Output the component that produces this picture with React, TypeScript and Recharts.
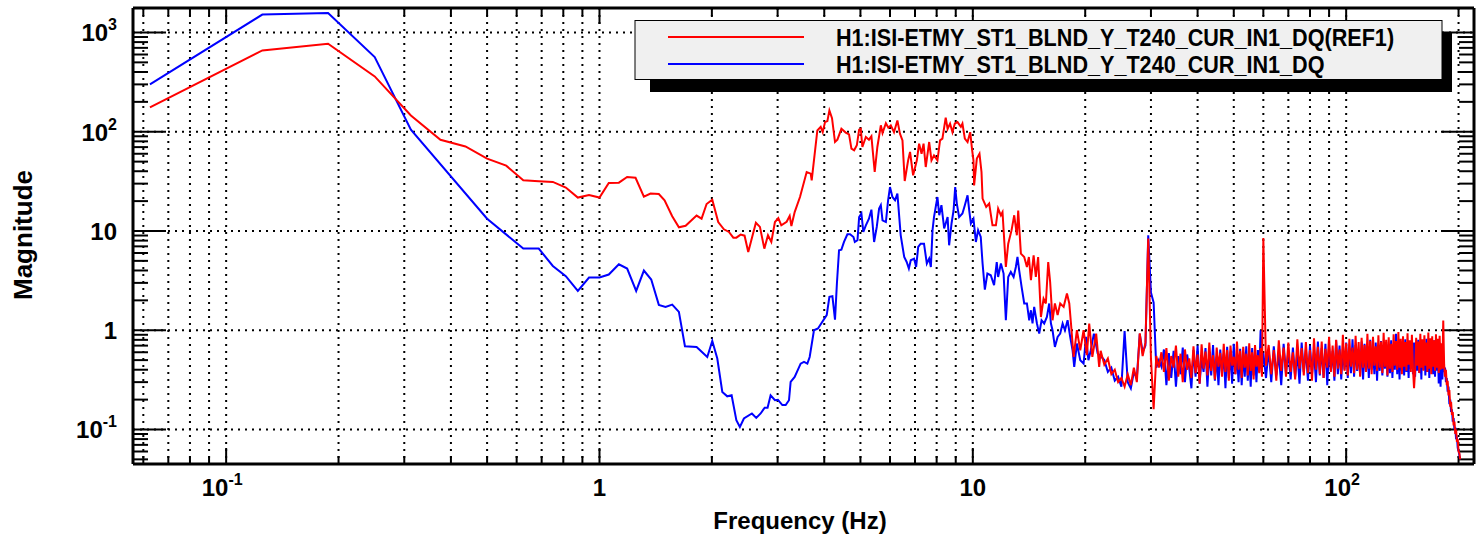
import React from 'react';
import { LineChart, Line, XAxis, YAxis, CartesianGrid, Legend, ReferenceLine } from 'recharts';

const FONT = '"Liberation Sans", Arial, Helvetica, sans-serif';

// plot frame (px) inside the 1484 x 537 chart
const FRAME = { left: 133, right: 1474, top: 8, bottom: 464 };

const X_DOMAIN: [number, number] = [0.0563, 220];
const Y_DOMAIN: [number, number] = [0.0449, 1765];

const MANTISSAS = [1, 2, 3, 4, 5, 6, 7, 8, 9];
const X_TICKS = [0.01, 0.1, 1, 10, 100]
  .flatMap((d) => MANTISSAS.map((m) => m * d))
  .filter((v) => v >= X_DOMAIN[0] && v <= X_DOMAIN[1]);
const Y_TICKS = [0.01, 0.1, 1, 10, 100, 1000]
  .flatMap((d) => MANTISSAS.map((m) => m * d))
  .filter((v) => v >= Y_DOMAIN[0] && v <= Y_DOMAIN[1]);
const Y_DECADES = [0.1, 1, 10, 100, 1000];

const RED_NAME = 'H1:ISI-ETMY_ST1_BLND_Y_T240_CUR_IN1_DQ(REF1)';
const BLUE_NAME = 'H1:ISI-ETMY_ST1_BLND_Y_T240_CUR_IN1_DQ';

// [frequency Hz, magnitude], 0.0625 .. 22 Hz
const redLow: [number, number][] = [
  [0.0625, 176], [0.125, 660], [0.1875, 771], [0.25, 361], [0.3125, 146], [0.375, 83], [0.4375, 71],
  [0.5, 53.6], [0.5625, 45.5], [0.625, 32.4], [0.6875, 31.7], [0.75, 31.2], [0.8125, 27.4], [0.875, 21.7],
  [0.9375, 23], [1.0, 21.7], [1.059, 30.5], [1.127, 30.7], [1.186, 35.0], [1.249, 34.4], [1.315, 22.2],
  [1.37, 23.8], [1.442, 23.6], [1.494, 20.4], [1.566, 14.1], [1.632, 10.9], [1.701, 11.3], [1.82, 14.3],
  [1.877, 13.3], [1.936, 18.7], [2.005, 20.7], [2.08, 12.3], [2.154, 10.4], [2.222, 9.77], [2.283, 8.57],
  [2.326, 8.57], [2.388, 9.19], [2.447, 8.97], [2.503, 6.13], [2.624, 12.1], [2.69, 11.0], [2.764, 6.64],
  [2.827, 9.05], [2.886, 7.75], [2.951, 12.3], [3.013, 13.5], [3.069, 11.4], [3.172, 12.4], [3.232, 14.2],
  [3.266, 11.2], [3.333, 15.5], [3.444, 22.0], [3.589, 39.3], [3.679, 37.8], [3.702, 32.4], [3.833, 103],
  [3.913, 112], [3.962, 99], [4.019, 125], [4.078, 128], [4.129, 164], [4.196, 137], [4.274, 78.8],
  [4.338, 83.2], [4.446, 107], [4.566, 98], [4.66, 94], [4.73, 67.6], [4.81, 65], [4.89, 73], [4.96, 105],
  [5.01, 107], [5.06, 70.2], [5.17, 88.5], [5.27, 83.2], [5.35, 89.9], [5.46, 39.3], [5.55, 70.2],
  [5.67, 116], [5.73, 97], [5.85, 122], [5.94, 110], [6.03, 116], [6.15, 99], [6.28, 130], [6.38, 95.7],
  [6.48, 81.9], [6.57, 31.9], [6.71, 51.5], [6.79, 62.5], [6.92, 36.4], [7.08, 51.5], [7.18, 75.9],
  [7.29, 60.1], [7.38, 75.9], [7.48, 44.1], [7.64, 78.8], [7.75, 51.5], [7.87, 57.8], [8.04, 51.5],
  [8.17, 81.9], [8.29, 85.2], [8.46, 139], [8.56, 107], [8.69, 121], [8.82, 99], [8.95, 121], [9.1, 125],
  [9.29, 112], [9.38, 121], [9.52, 85.2], [9.68, 78.8], [9.84, 99], [9.96, 65], [10.04, 51.5], [10.08, 28.8],
  [10.25, 53.6], [10.42, 60.1], [10.55, 39.3], [10.62, 21.2], [10.86, 17.5], [11.06, 18.9], [11.29, 11.4],
  [11.53, 11.4], [11.69, 16.8], [11.89, 14.4], [12.01, 15.5], [12.26, 4.34], [12.44, 7.45], [12.7, 10.2],
  [12.91, 14.4], [13.12, 9.05], [13.23, 16.1], [13.45, 5.92], [13.73, 5.47], [13.96, 4.34], [14.13, 5.47],
  [14.31, 3.19], [14.55, 5.69], [14.75, 3.44], [14.96, 5.47], [15.22, 1.36], [15.47, 2.08], [15.69, 1.86],
  [15.92, 4.87], [16.11, 3.06], [16.35, 1.26], [16.59, 1.86], [16.87, 1.42], [17.14, 1.86], [17.51, 1.72],
  [17.87, 2.34], [18.13, 1.86], [18.32, 1.17], [18.62, 0.538], [19.0, 1.0], [19.4, 0.629], [19.8, 1.0],
  [20.2, 0.56], [20.5, 1.17], [20.9, 0.538], [21.4, 0.925], [21.8, 0.428],
];

const blueLow: [number, number][] = [
  [0.0625, 300], [0.125, 1515], [0.1875, 1570], [0.25, 565], [0.3125, 105], [0.5, 13.3], [0.625, 6.65],
  [0.6875, 6.65], [0.75, 4.44], [0.8125, 3.5], [0.875, 2.49], [0.9375, 3.4], [1.0, 3.4], [1.059, 3.64],
  [1.127, 4.62], [1.186, 4.18], [1.254, 2.49], [1.315, 3.99], [1.376, 3.24], [1.442, 1.8], [1.503, 1.72],
  [1.566, 1.81], [1.632, 1.53], [1.694, 0.69], [1.82, 0.679], [1.944, 0.538], [2.005, 0.78], [2.068, 0.519],
  [2.133, 0.239], [2.199, 0.216], [2.259, 0.221], [2.326, 0.124], [2.377, 0.106], [2.437, 0.129],
  [2.56, 0.145], [2.63, 0.131], [2.702, 0.145], [2.77, 0.166], [2.82, 0.166], [2.873, 0.221], [2.951, 0.197],
  [3.006, 0.199], [3.089, 0.176], [3.153, 0.176], [3.218, 0.197], [3.251, 0.302], [3.333, 0.339],
  [3.458, 0.461], [3.53, 0.479], [3.604, 0.461], [3.656, 0.538], [3.754, 1.0], [3.848, 1.04], [4.061, 1.42],
  [4.129, 2.17], [4.206, 2.2], [4.274, 1.28], [4.325, 2.97], [4.382, 6.4], [4.446, 6.49], [4.518, 7.75],
  [4.613, 9.27], [4.69, 9.27], [4.79, 8.7], [4.83, 7.75], [4.91, 8.06], [4.96, 13.8], [5.03, 15.0],
  [5.09, 9.77], [5.17, 11.4], [5.27, 13.3], [5.35, 16.4], [5.44, 7.75], [5.53, 11.0], [5.61, 16.8],
  [5.67, 18.2], [5.73, 12.8], [5.85, 12.3], [5.93, 20.4], [6.0, 27.7], [6.09, 22.0], [6.19, 20.4],
  [6.28, 23.8], [6.41, 9.05], [6.55, 5.47], [6.65, 4.87], [6.74, 4.18], [6.82, 5.07], [6.96, 5.27],
  [7.05, 4.34], [7.14, 6.9], [7.25, 7.45], [7.4, 7.45], [7.53, 4.7], [7.64, 5.27], [7.72, 4.34], [7.8, 10.2],
  [7.87, 13.8], [8.04, 22.0], [8.13, 14.4], [8.24, 18.2], [8.38, 10.6], [8.56, 13.8], [8.64, 7.18],
  [8.77, 11.9], [8.88, 16.1], [8.97, 27.7], [9.06, 18.9], [9.19, 13.8], [9.38, 15.0], [9.52, 18.2],
  [9.68, 22.9], [9.78, 16.1], [9.88, 11.9], [10.04, 13.3], [10.19, 7.75], [10.33, 10.2], [10.5, 8.7],
  [10.62, 4.7], [10.77, 2.57], [10.94, 3.72], [11.17, 3.58], [11.4, 2.84], [11.59, 4.87], [11.69, 3.44],
  [11.89, 4.7], [12.09, 3.72], [12.26, 1.26], [12.44, 3.44], [12.64, 3.87], [12.86, 3.44], [13.04, 4.34],
  [13.17, 5.47], [13.31, 4.02], [13.51, 2.73], [13.73, 1.86], [13.96, 1.86], [14.16, 1.26], [14.31, 1.59],
  [14.45, 1.17], [14.6, 1.72], [14.85, 1.17], [15.06, 0.925], [15.28, 1.26], [15.53, 1.17], [15.79, 1.36],
  [16.02, 1.86], [16.19, 1.17], [16.35, 1.0], [16.59, 0.679], [16.87, 0.857], [17.14, 0.925], [17.4, 1.17],
  [17.65, 1.0], [17.94, 1.26], [18.23, 0.857], [18.5, 0.629], [18.69, 0.428], [19.0, 0.734], [19.4, 0.499],
  [19.8, 0.461], [20.1, 0.857], [20.4, 0.499], [20.7, 0.629], [21.1, 0.925], [21.6, 0.582],
];

// noisy floor, bins 22 .. 59.5 Hz every 0.5 Hz (one row = 5 Hz)
const redMid = [
  0.62, 0.45, 0.52, 0.36, 0.40, 0.30, 0.33, 0.27, 0.36, 0.28, // 22
  0.42, 0.30, 0.93, 0.55, 0.75, 8.4, 0.52, 0.16, 0.55, 0.42, // 27
  0.60, 0.38, 0.66, 0.31, 0.55, 0.42, 0.70, 0.34, 0.58, 0.30, // 32
  0.64, 0.40, 0.52, 0.33, 0.69, 0.37, 0.57, 0.29, 0.72, 0.41, // 37
  0.61, 0.35, 0.75, 0.39, 0.56, 0.32, 0.67, 0.43, 0.59, 0.34, // 42
  0.73, 0.38, 0.63, 0.31, 0.70, 0.44, 0.54, 0.36, 0.77, 0.40, // 47
  0.62, 0.33, 0.68, 0.42, 0.58, 0.35, 0.74, 0.39, 0.60, 0.32, // 52
  0.71, 0.43, 0.56, 0.37, 0.66, 0.34, // 57
];
const blueMid = [
  0.55, 0.50, 0.38, 0.42, 0.31, 0.34, 0.27, 0.98, 0.30, 0.26, // 22
  0.38, 0.33, 0.92, 0.60, 0.70, 9.05, 2.4, 1.9, 0.42, 0.50, // 27
  0.43, 0.64, 0.28, 0.59, 0.33, 0.62, 0.27, 0.55, 0.36, 0.67, // 32
  0.30, 0.57, 0.41, 0.26, 0.63, 0.34, 0.70, 0.29, 0.52, 0.38, // 37
  0.66, 0.27, 0.59, 0.35, 0.71, 0.31, 0.54, 0.28, 0.64, 0.37, // 42
  0.58, 0.26, 0.68, 0.33, 0.61, 0.29, 0.73, 0.36, 0.55, 0.30, // 47
  0.65, 0.28, 0.60, 0.34, 0.69, 0.31, 0.57, 0.27, 0.66, 0.35, // 52
  0.59, 0.30, 0.63, 0.38, 1.0, 0.41, // 57
];

// noisy floor and roll-off, bins 60 .. 202 Hz every 1 Hz (one row = 10 Hz)
const redHigh = [
  8.5, 0.44, // 60
  0.71, 0.36, 0.63, 0.31, 0.79, 0.39, 0.67, 0.34, 0.75, 0.38, // 62
  0.60, 0.32, 0.81, 0.41, 0.66, 0.35, 0.76, 0.37, 0.63, 0.31, // 72
  0.83, 0.40, 0.68, 0.36, 0.77, 0.33, 0.65, 0.42, 0.86, 0.38, // 82
  0.70, 0.34, 0.80, 0.41, 0.64, 0.36, 0.90, 0.39, 0.74, 0.35, // 92
  0.82, 0.43, 0.67, 0.37, 0.88, 0.40, 0.76, 0.34, 0.84, 0.42, // 102
  0.71, 0.38, 0.92, 0.41, 0.78, 0.36, 0.86, 0.44, 0.69, 0.39, // 112
  0.89, 0.42, 0.77, 0.37, 0.94, 0.43, 0.80, 0.35, 0.85, 0.41, // 122
  0.73, 0.38, 0.91, 0.44, 0.78, 0.40, 0.96, 0.42, 0.82, 0.36, // 132
  0.87, 0.43, 0.76, 0.39, 0.93, 0.45, 0.79, 0.38, 0.90, 0.41, // 142
  0.26, 0.40, 0.84, 0.44, 0.77, 0.37, 0.92, 0.42, 0.81, 0.39, // 152
  0.89, 0.44, 0.75, 0.38, 0.95, 0.41, 0.83, 0.36, 0.87, 0.43, // 162
  0.79, 0.39, 0.91, 0.42, 0.82, 0.37, 0.88, 0.40, 0.74, 0.41, // 172
  1.25, 0.45, 0.34, 0.40, 0.28, 0.31, 0.22, 0.25, 0.17, 0.19, // 182
  0.14, 0.15, 0.11, 0.12, 0.09, 0.10, 0.075, 0.08, 0.06, 0.058, // 192
  0.05, // 202
];
const blueHigh = [
  0.59, 0.33, // 60
  0.64, 0.30, 0.69, 0.35, 0.57, 0.28, 0.73, 0.37, 0.61, 0.32, // 62
  0.67, 0.34, 0.59, 0.29, 0.75, 0.38, 0.64, 0.31, 0.70, 0.36, // 72
  0.61, 0.30, 0.77, 0.35, 0.66, 0.33, 0.73, 0.28, 0.68, 0.39, // 82
  0.62, 0.31, 0.79, 0.36, 0.70, 0.32, 0.64, 0.40, 0.75, 0.33, // 92
  0.66, 0.37, 0.81, 0.34, 0.71, 0.39, 0.63, 0.35, 0.77, 0.32, // 102
  0.73, 0.38, 0.67, 0.33, 0.80, 0.40, 0.68, 0.36, 0.75, 0.31, // 112
  0.70, 0.39, 0.78, 0.35, 0.66, 0.41, 0.76, 0.34, 0.72, 0.37, // 122
  0.79, 0.33, 0.69, 0.40, 0.92, 0.36, 0.74, 0.32, 0.77, 0.39, // 132
  0.67, 0.35, 0.81, 0.38, 0.72, 0.33, 0.78, 0.41, 0.68, 0.36, // 142
  0.75, 0.34, 0.70, 0.39, 0.80, 0.37, 0.65, 0.32, 0.76, 0.40, // 152
  0.68, 0.35, 0.82, 0.38, 0.73, 0.33, 0.77, 0.41, 0.69, 0.36, // 162
  0.79, 0.34, 0.71, 0.39, 0.66, 0.29, 0.75, 0.27, 0.62, 0.32, // 172
  0.52, 0.38, 0.42, 0.30, 0.33, 0.24, 0.27, 0.18, 0.20, 0.15, // 182
  0.16, 0.12, 0.13, 0.10, 0.105, 0.08, 0.085, 0.065, 0.062, 0.055, // 192
  0.05, // 202
];

const toSeries = (low: [number, number][], mid: number[], high: number[]) => [
  ...low.map(([f, v]) => ({ f, v })),
  ...mid.map((v, i) => ({ f: 22 + i * 0.5, v })),
  ...high.map((v, i) => ({ f: 60 + i, v })),
];

const redData = toSeries(redLow, redMid, redHigh);
const blueData = toSeries(blueLow, blueMid, blueHigh);

const isDecade = (v: number) => {
  const lg = Math.log10(v);
  return Math.abs(lg - Math.round(lg)) < 1e-6;
};

// tick lengths in px turned into factors along the log axes
const PX_PER_DEC_X = (FRAME.right - FRAME.left) / Math.log10(X_DOMAIN[1] / X_DOMAIN[0]);
const PX_PER_DEC_Y = (FRAME.bottom - FRAME.top) / Math.log10(Y_DOMAIN[1] / Y_DOMAIN[0]);
const xFactor = (px: number) => Math.pow(10, px / PX_PER_DEC_X);
const yFactor = (px: number) => Math.pow(10, px / PX_PER_DEC_Y);

const powerLabel = (exp: number) => {
  if (exp === 0) return '1';
  if (exp === 1) return '10';
  return [
    <tspan key="b">10</tspan>,
    <tspan key="e" dy={-11} fontSize={16}>{exp}</tspan>,
  ];
};

const textProps = { fontFamily: FONT, fontWeight: 'bold' as const, fill: '#000' };

const XLabel = (props: any) => {
  const { x, payload } = props;
  const v = payload.value;
  if (!isDecade(v)) return <g />;
  const exp = Math.round(Math.log10(v));
  return (
    <text x={exp === 0 || exp === 1 ? x : x - 4} y={496} textAnchor="middle" fontSize={24} {...textProps}>
      {powerLabel(exp)}
    </text>
  );
};

const YLabel = (props: any) => {
  const { y, payload } = props;
  const exp = Math.round(Math.log10(payload.value));
  return (
    <text x={117} y={y + 9} textAnchor="end" fontSize={24} {...textProps}>
      {powerLabel(exp)}
    </text>
  );
};

const tickLine = { stroke: '#000', strokeWidth: 2, ifOverflow: 'visible' as const, xAxisId: 'b', yAxisId: 'l' };

// ROOT style ticks pointing into the frame on all four sides
const xTickMarks = X_TICKS.flatMap((v) => {
  const k = yFactor(isDecade(v) ? 16 : 8);
  return [
    <ReferenceLine key={`xb${v}`} {...tickLine} segment={[{ x: v, y: Y_DOMAIN[0] }, { x: v, y: Y_DOMAIN[0] * k }]} />,
    <ReferenceLine key={`xt${v}`} {...tickLine} segment={[{ x: v, y: Y_DOMAIN[1] }, { x: v, y: Y_DOMAIN[1] / k }]} />,
  ];
});
const yTickMarks = Y_TICKS.flatMap((v) => {
  const k = xFactor(isDecade(v) ? 33 : 15);
  return [
    <ReferenceLine key={`yl${v}`} {...tickLine} segment={[{ x: X_DOMAIN[0], y: v }, { x: X_DOMAIN[0] * k, y: v }]} />,
    <ReferenceLine key={`yr${v}`} {...tickLine} segment={[{ x: X_DOMAIN[1], y: v }, { x: X_DOMAIN[1] / k, y: v }]} />,
  ];
});

const LegendBox = (props: any) => {
  const items = [...(props.payload || [])].reverse();
  return (
    <svg width={830} height={80}>
      <rect x={16} y={13} width={802} height={59} fill="#000" />
      <rect x={1} y={0.5} width={807} height={59} fill="#f0f0f0" stroke="#000" strokeWidth={1} />
      {items.map((item: any, i: number) => {
        const cy = 17 + i * 27;
        return (
          <g key={item.value}>
            <line x1={34} x2={170} y1={cy} y2={cy} stroke={item.color} strokeWidth={2} />
            <g transform={`translate(202, ${cy + 8.5}) scale(0.9, 1)`}>
              <text x={0} y={0} fontSize={24} {...textProps}>{item.value}</text>
            </g>
          </g>
        );
      })}
    </svg>
  );
};

export default function App() {
  return (
    <div style={{ width: 1484, height: 537, background: '#fff' }}>
      <style>{'body { margin: 0; }'}</style>
      <LineChart width={1484} height={537} margin={{ top: 7, right: 9, bottom: 0, left: 0 }}>
        <CartesianGrid xAxisId="b" yAxisId="l" stroke="#000" strokeWidth={2} strokeDasharray="2 5" />
        <XAxis
          xAxisId="b"
          type="number"
          dataKey="f"
          scale="log"
          domain={X_DOMAIN}
          allowDataOverflow
          ticks={X_TICKS}
          interval={0}
          tick={(p: any) => <XLabel {...p} />}
          tickLine={false}
          axisLine={{ stroke: '#000', strokeWidth: 3 }}
          height={73}
          label={{
            content: () => (
              <text x={800} y={529} textAnchor="middle" fontSize={24} {...textProps}>
                Frequency (Hz)
              </text>
            ),
          }}
        />
        <XAxis
          xAxisId="t"
          orientation="top"
          type="number"
          scale="log"
          domain={X_DOMAIN}
          allowDataOverflow
          height={1}
          tick={false}
          tickLine={false}
          axisLine={{ stroke: '#000', strokeWidth: 3 }}
        />
        <YAxis
          yAxisId="l"
          type="number"
          scale="log"
          domain={Y_DOMAIN}
          allowDataOverflow
          ticks={Y_DECADES}
          interval={0}
          tick={(p: any) => <YLabel {...p} />}
          tickLine={false}
          axisLine={{ stroke: '#000', strokeWidth: 3 }}
          width={133}
          label={{
            content: () => (
              <text
                transform="translate(32, 235) rotate(-90)"
                textAnchor="middle"
                fontSize={26}
                {...textProps}
              >
                Magnitude
              </text>
            ),
          }}
        />
        <YAxis
          yAxisId="r"
          orientation="right"
          type="number"
          scale="log"
          domain={Y_DOMAIN}
          allowDataOverflow
          tick={false}
          tickLine={false}
          axisLine={{ stroke: '#000', strokeWidth: 3 }}
          width={1}
        />
        {xTickMarks}
        {yTickMarks}
        <Line
          xAxisId="b"
          yAxisId="l"
          data={blueData}
          dataKey="v"
          name={BLUE_NAME}
          type="linear"
          stroke="#0000ff"
          strokeWidth={2}
          dot={false}
          isAnimationActive={false}
        />
        <Line
          xAxisId="b"
          yAxisId="l"
          data={redData}
          dataKey="v"
          name={RED_NAME}
          type="linear"
          stroke="#ff0000"
          strokeWidth={2}
          dot={false}
          isAnimationActive={false}
        />
        <Legend
          layout="vertical"
          align="center"
          verticalAlign="middle"
          wrapperStyle={{ left: 634, top: 20, width: 830, height: 80 }}
          content={(p: any) => <LegendBox {...p} />}
        />
      </LineChart>
    </div>
  );
}
